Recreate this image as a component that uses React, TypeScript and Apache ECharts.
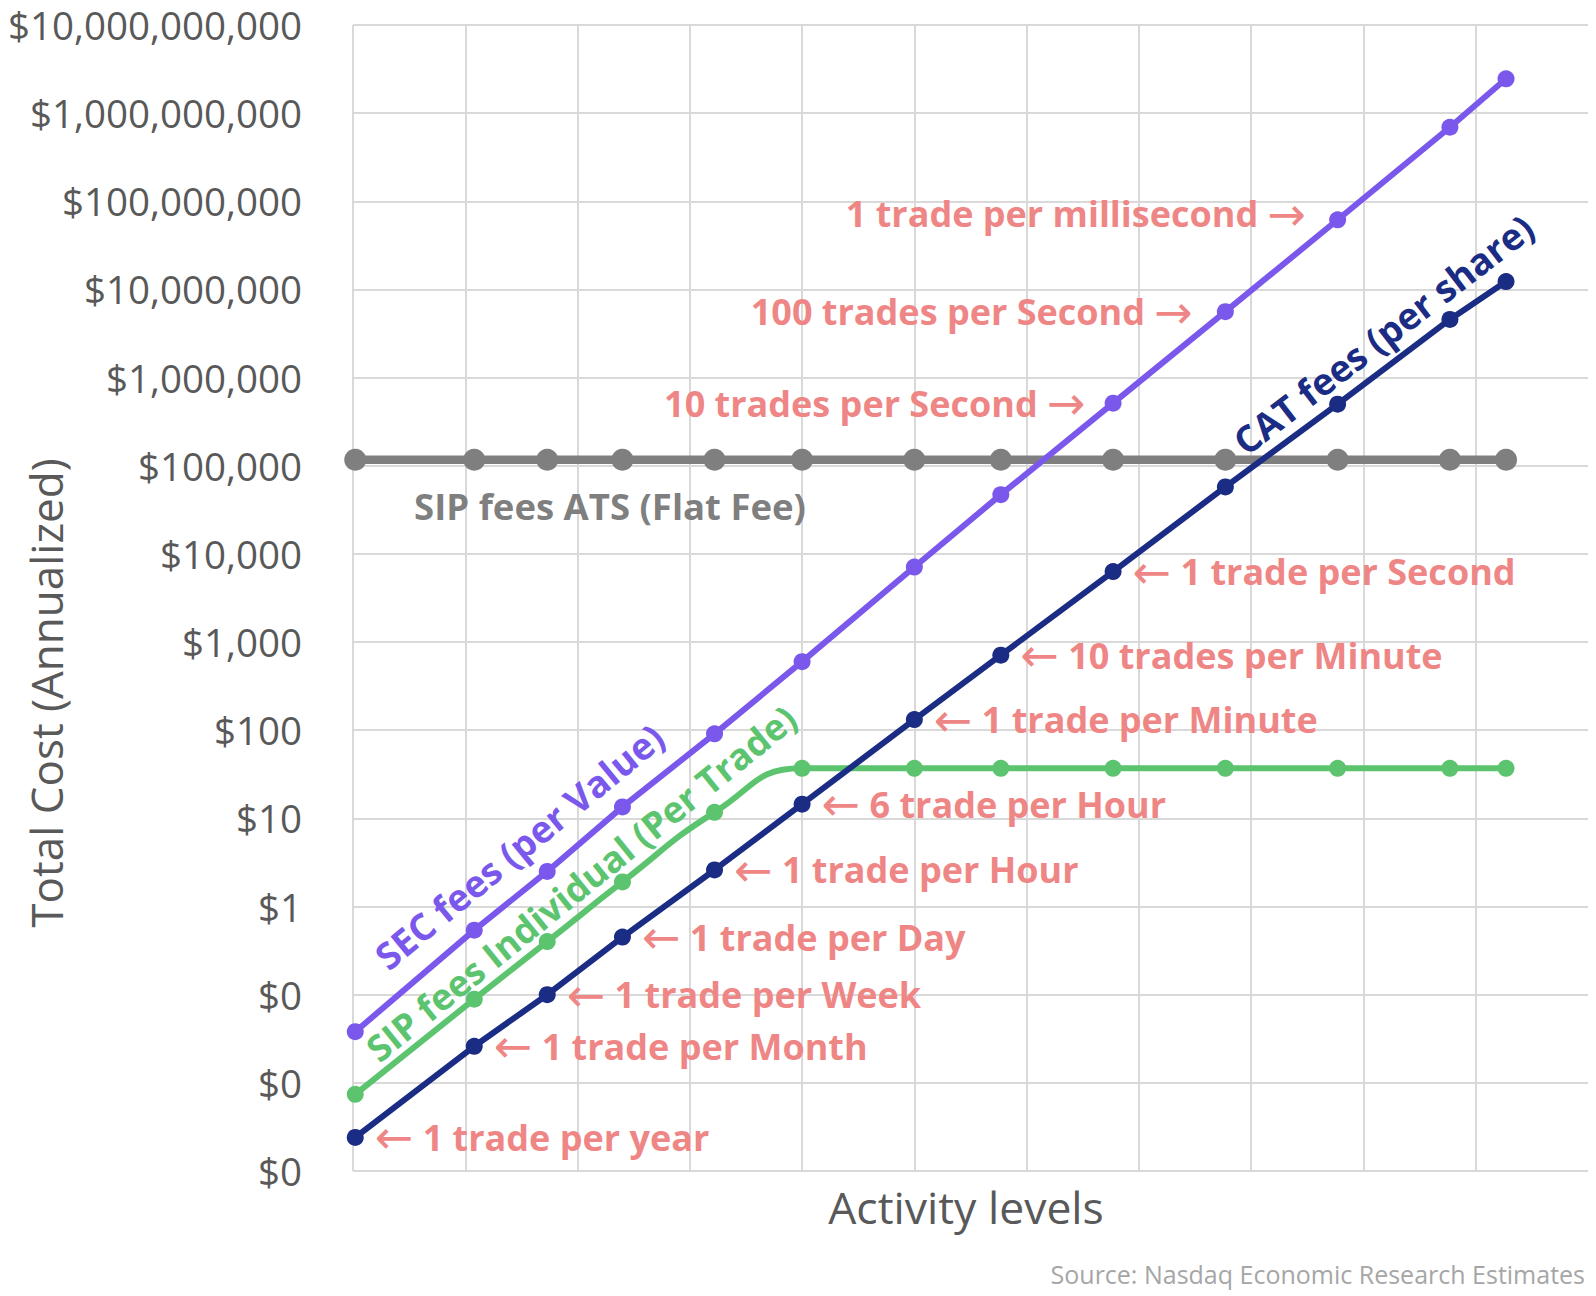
import React, { useEffect, useRef } from "react";
import * as echarts from "echarts";

// Activity level positions (log-spaced activity, in grid units)
const X_POS = [0.02, 1.08, 1.73, 2.4, 3.22, 4.0, 5.0, 5.77, 6.77, 7.77, 8.77, 9.77, 10.27];

// Annualized total cost in dollars
const SEC_FEES = [0.038, 0.54, 2.5, 13.5, 91, 600, 7100, 47000, 513000, 5600000, 61700000, 692000000, 2450000000];
const CAT_FEES = [0.0024, 0.026, 0.1, 0.45, 2.6, 14.5, 132, 710, 6300, 57500, 500000, 4570000, 12300000];
const SIP_INDIVIDUAL = [0.0074, 0.089, 0.4, 1.9, 11.7, 37, 37, 37, 37, 37, 37, 37, 37];
const SIP_ATS = [117000, 117000, 117000, 117000, 117000, 117000, 117000, 117000, 117000, 117000, 117000, 117000, 117000];

const CAT_NOTES = [
  "1 trade per year",
  "1 trade per Month",
  "1 trade per Week",
  "1 trade per Day",
  "1 trade per Hour",
  "6 trade per Hour",
  "1 trade per Minute",
  "10 trades per Minute",
  "1 trade per Second",
  "",
  "",
  "",
  "",
];
const SEC_NOTES = ["", "", "", "", "", "", "", "", "10 trades per Second", "100 trades per Second", "1 trade per millisecond", "", ""];

const Y_TICK_LABELS = [
  "$0",
  "$0",
  "$0",
  "$1",
  "$10",
  "$100",
  "$1,000",
  "$10,000",
  "$100,000",
  "$1,000,000",
  "$10,000,000",
  "$100,000,000",
  "$1,000,000,000",
  "$10,000,000,000",
];

const FONT = "'Open Sans', 'DejaVu Sans', sans-serif";
const NOTE_COLOR = "#EF8686";
const C_SEC = "#7B58EC";
const C_CAT = "#1B2C84";
const C_SIP = "#5CC46E";
const C_ATS = "#7F7F7F";
const C_AXIS = "#595959";

export default function App() {
  const ref = useRef<HTMLDivElement>(null);

  useEffect(() => {
    document.body.style.margin = "0";
    const chart = echarts.init(ref.current!, null, { renderer: "svg" });

    const noteBase = {
      show: true,
      color: NOTE_COLOR,
      fontSize: 36,
      fontWeight: "bold",
      fontFamily: FONT,
      verticalAlign: "middle",
      rich: {
        arr: {
          fontFamily: "'DejaVu Sans'",
          fontWeight: "normal",
          fontSize: 46,
          color: NOTE_COLOR,
          verticalAlign: "middle",
        },
        t: {
          fontFamily: FONT,
          fontWeight: "bold",
          fontSize: 36,
          color: NOTE_COLOR,
          verticalAlign: "middle",
        },
      },
    };

    const toPts = (vals: number[]) => X_POS.map((x, i) => [x, Math.log10(vals[i])]);

    const catData = toPts(CAT_FEES).map((p, i) =>
      CAT_NOTES[i]
        ? {
            value: p,
            label: { ...noteBase, position: "right", distance: 11, formatter: "{arr|←}{t| " + CAT_NOTES[i] + "}" },
          }
        : { value: p }
    );
    const secDist = [0, 0, 0, 0, 0, 0, 0, 0, 19, 24, 23, 0, 0];
    const secOff = [0, 0, 0, 0, 0, 0, 0, 0, 0, 0, -6, 0, 0];
    const secData = toPts(SEC_FEES).map((p, i) =>
      SEC_NOTES[i]
        ? {
            value: p,
            label: {
              ...noteBase,
              position: "left",
              distance: secDist[i],
              offset: [0, secOff[i]],
              formatter: "{t|" + SEC_NOTES[i] + " }{arr|→}",
            },
          }
        : { value: p }
    );

    const deg = Math.PI / 180;
    const seriesText = (text: string, x: number, y: number, rot: number, color: string, size: number) => ({
      type: "text",
      x,
      y,
      rotation: rot * deg,
      z: 100,
      style: {
        text,
        fontSize: size,
        fontWeight: "bold",
        fontFamily: FONT,
        fill: color,
        align: "center",
        verticalAlign: "middle",
        textAlign: "center",
        textVerticalAlign: "middle",
      },
    });

    chart.setOption({
      animation: false,
      backgroundColor: "#ffffff",
      grid: { left: 353, top: 25, right: 8, bottom: 125, containLabel: false },
      xAxis: {
        type: "value",
        min: 0,
        max: 11,
        interval: 1,
        axisLabel: { show: false },
        axisTick: { show: false },
        axisLine: { show: false },
        splitLine: { show: true, showMaxLine: false, lineStyle: { color: "#D9D9D9", width: 2 } },
      },
      yAxis: {
        type: "value",
        min: -3,
        max: 10,
        interval: 1,
        axisTick: { show: false },
        axisLine: { show: false },
        splitLine: { show: true, lineStyle: { color: "#D9D9D9", width: 2 } },
        axisLabel: {
          margin: 51,
          fontSize: 38.5,
          color: C_AXIS,
          fontFamily: FONT,
          formatter: (v: number) => Y_TICK_LABELS[Math.round(v) + 3],
        },
      },
      graphic: [
        {
          type: "text",
          x: 46,
          y: 693,
          rotation: Math.PI / 2,
          z: 100,
          style: {
            text: "Total Cost (Annualized)",
            fontSize: 44,
            fontFamily: FONT,
            fill: C_AXIS,
            align: "center",
            verticalAlign: "middle",
            textAlign: "center",
            textVerticalAlign: "middle",
          },
        },
        {
          type: "text",
          x: 966,
          y: 1206,
          z: 100,
          style: {
            text: "Activity levels",
            fontSize: 44.5,
            fontFamily: FONT,
            fill: C_AXIS,
            align: "center",
            verticalAlign: "middle",
            textAlign: "center",
            textVerticalAlign: "middle",
          },
        },
        {
          type: "text",
          x: 1585,
          y: 1274,
          z: 100,
          style: {
            text: "Source: Nasdaq Economic Research Estimates",
            fontSize: 25,
            fontFamily: FONT,
            fill: "#A6A6A6",
            align: "right",
            verticalAlign: "middle",
            textAlign: "right",
            textVerticalAlign: "middle",
          },
        },
        seriesText("SEC fees (per Value)", 519, 846, 39.5, C_SEC, 37),
        seriesText("SIP fees Individual (Per Trade)", 581, 883, 39, C_SIP, 36.5),
        seriesText("CAT fees (per share)", 1383, 334, 37.5, C_CAT, 37),
        seriesText("SIP fees ATS (Flat Fee)", 610, 506, 0, C_ATS, 36.5),
      ],
      series: [
        {
          name: "SIP fees ATS (Flat Fee)",
          type: "line",
          data: toPts(SIP_ATS),
          symbol: "circle",
          symbolSize: 22,
          lineStyle: { color: C_ATS, width: 8.5 },
          itemStyle: { color: C_ATS },
          z: 2,
        },
        {
          name: "SIP fees Individual (Per Trade)",
          type: "line",
          smooth: 0.5,
          data: toPts(SIP_INDIVIDUAL),
          symbol: "circle",
          symbolSize: 17,
          lineStyle: { color: C_SIP, width: 6 },
          itemStyle: { color: C_SIP },
          z: 3,
        },
        {
          name: "SEC fees (per Value)",
          type: "line",
          data: secData,
          symbol: "circle",
          symbolSize: 17,
          lineStyle: { color: C_SEC, width: 6 },
          itemStyle: { color: C_SEC },
          z: 4,
        },
        {
          name: "CAT fees (per share)",
          type: "line",
          data: catData,
          symbol: "circle",
          symbolSize: 17,
          lineStyle: { color: C_CAT, width: 6 },
          itemStyle: { color: C_CAT },
          z: 5,
        },
      ],
    });

    return () => chart.dispose();
  }, []);

  return <div ref={ref} style={{ width: 1596, height: 1296 }} />;
}
